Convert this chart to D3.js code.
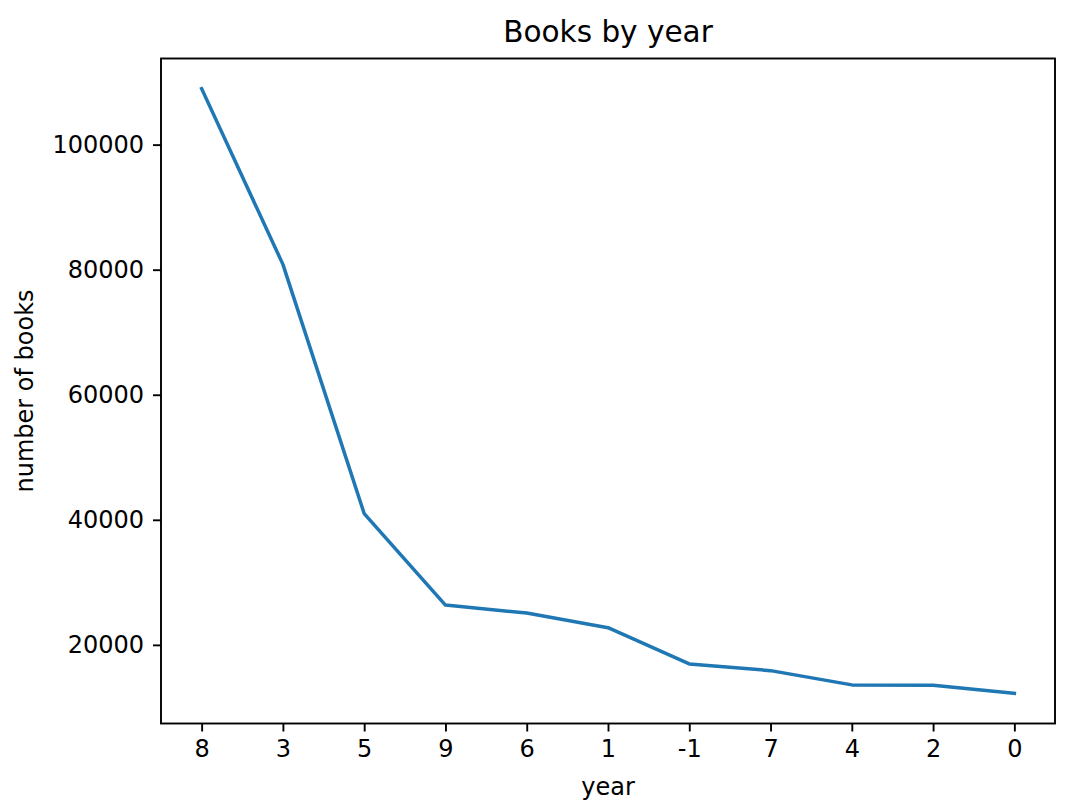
<!DOCTYPE html>
<html>
<head>
<meta charset="utf-8">
<script src="https://cdn.jsdelivr.net/npm/d3@7"></script>
<style>
  html, body { margin: 0; padding: 0; background: #fff; }
  svg text { font-family: "DejaVu Sans", sans-serif; fill: #000; }
</style>
</head>
<body>
<svg id="chart" width="1066" height="811"></svg>
<script>
const years = ["8", "3", "5", "9", "6", "1", "-1", "7", "4", "2", "0"];
const books = [108940, 80850, 41000, 26370, 25090, 22750, 16950, 15880, 13600, 13540, 12260];
const yTickValues = [20000, 40000, 60000, 80000, 100000];
const titleText = "Books by year";
const xLabelText = "year";
const yLabelText = "number of books";

(function () {
const svg = d3.select("#chart");
const pLeft = 161, pRight = 1055, pTop = 58.5, pBottom = 723.5;

const x = d3.scalePoint().domain(years).range([pLeft, pRight]).padding(0.5);
const yMin = d3.min(books), yMax = d3.max(books);
const m = (yMax - yMin) * 0.05;
const y = d3.scaleLinear().domain([yMin - m, yMax + m]).range([pBottom, pTop]);

// line
const line = d3.line().x((d, i) => x(years[i])).y(d => y(d));
svg.append("path")
  .datum(books)
  .attr("d", line)
  .attr("fill", "none")
  .attr("stroke", "#1f77b4")
  .attr("stroke-width", 3.5)
  .attr("stroke-linejoin", "round")
  .attr("stroke-linecap", "square");

// x axis
const xAxis = d3.axisBottom(x).tickSize(8).tickPadding(8);
const gx = svg.append("g").attr("transform", `translate(0,${pBottom})`).call(xAxis);
gx.select(".domain").remove();
gx.selectAll(".tick line").attr("stroke", "#000").attr("stroke-width", 1.9);
gx.selectAll(".tick text").attr("font-size", 24).attr("font-family", "DejaVu Sans").attr("dy", "0.71em").attr("fill", "#111");

// y axis
const yAxis = d3.axisLeft(y).tickValues(yTickValues).tickFormat(d3.format("d")).tickSize(8).tickPadding(9);
const gy = svg.append("g").attr("transform", `translate(${pLeft},0)`).call(yAxis);
gy.select(".domain").remove();
gy.selectAll(".tick line").attr("stroke", "#000").attr("stroke-width", 1.9);
gy.selectAll(".tick text").attr("font-size", 24).attr("font-family", "DejaVu Sans").attr("fill", "#111");

// frame
svg.append("rect")
  .attr("x", pLeft).attr("y", pTop)
  .attr("width", pRight - pLeft).attr("height", pBottom - pTop)
  .attr("fill", "none").attr("stroke", "#000").attr("stroke-width", 1.9);

// title
svg.append("text")
  .attr("x", (pLeft + pRight) / 2).attr("y", 42)
  .attr("text-anchor", "middle").attr("font-size", 29.5).attr("fill", "#111")
  .text(titleText);

// x label
svg.append("text")
  .attr("x", (pLeft + pRight) / 2).attr("y", 795)
  .attr("text-anchor", "middle").attr("font-size", 24).attr("fill", "#111")
  .text(xLabelText);

// y label
svg.append("text")
  .attr("transform", `translate(33,${(pTop + pBottom) / 2}) rotate(-90)`)
  .attr("text-anchor", "middle").attr("font-size", 24).attr("fill", "#111")
  .text(yLabelText);
})();
</script>
</body>
</html>
